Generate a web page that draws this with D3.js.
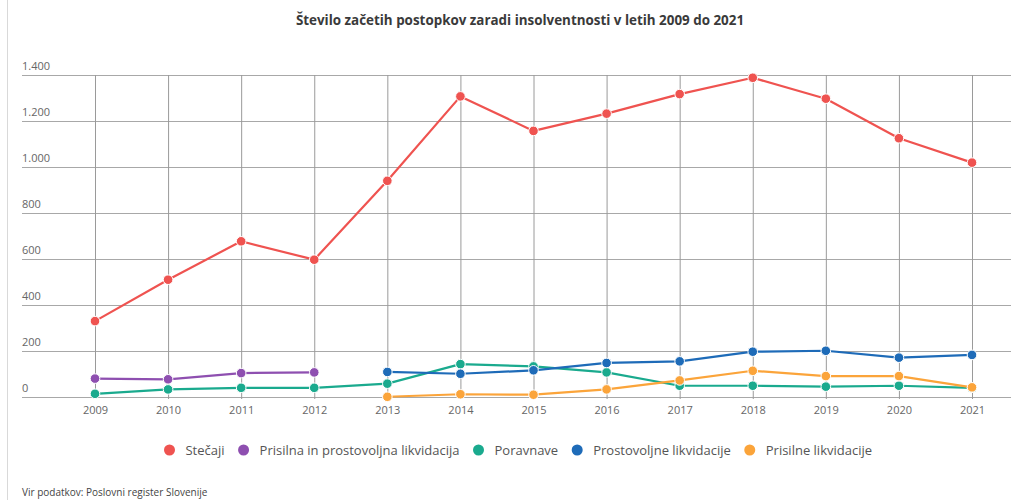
<!DOCTYPE html>
<html>
<head>
<meta charset="utf-8">
<script src="https://cdn.jsdelivr.net/npm/d3@7"></script>
<style>
  html, body { margin: 0; padding: 0; background: #fff; }
  svg { display: block; font-family: "Open Sans", "Noto Sans", sans-serif; }
</style>
</head>
<body>
<svg id="chart" width="1029" height="500"></svg>
<script>
const years = [2009, 2010, 2011, 2012, 2013, 2014, 2015, 2016, 2017, 2018, 2019, 2020, 2021];
const yTicks = [0, 200, 400, 600, 800, 1000, 1200, 1400];
const seriesNames = ["Stečaji", "Prisilna in prostovoljna likvidacija", "Poravnave", "Prostovoljne likvidacije", "Prisilne likvidacije"];
const seriesColors = ["#ef5350", "#8e4fb0", "#1aaa8e", "#1e6bb8", "#fba43a"];
const stecaji = [330, 510, 677, 597, 940, 1307, 1157, 1232, 1317, 1388, 1297, 1125, 1019];
const prisilnaInProstovoljna = [80, 77, 104, 107, null, null, null, null, null, null, null, null, null];
const poravnave = [14, 33, 40, 40, 58, 143, 133, 107, 49, 49, 45, 49, 40];
const prostovoljne = [null, null, null, null, 109, 101, 116, 148, 155, 197, 201, 171, 183];
const prisilne = [null, null, null, null, 1, 12, 10, 33, 72, 114, 91, 91, 42];
const seriesValues = [stecaji, prisilnaInProstovoljna, poravnave, prostovoljne, prisilne];
const titleText = "Število začetih postopkov zaradi insolventnosti v letih 2009 do 2021";
const sourceText = "Vir podatkov: Poslovni register Slovenije";

const svg = d3.select("#chart");
const gridLeft = 22, gridRight = 1011, plotTop = 75, plotBottom = 397;
const x = d3.scaleLinear().domain([2009, 2021]).range([95, 972]);
const y = d3.scaleLinear().domain([0, 1400]).range([plotBottom, plotTop]);
const loc = d3.formatLocale({decimal: ",", thousands: ".", grouping: [3], currency: ["", "€"]});
const fmt = loc.format(",d");

// left border
svg.append("line").attr("x1", 7.5).attr("x2", 7.5).attr("y1", 0).attr("y2", 500)
  .attr("stroke", "#d9d9d9").attr("stroke-width", 1);

// title
svg.append("text").attr("x", 520).attr("y", 25).attr("text-anchor", "middle")
  .attr("font-size", 13.4).attr("font-weight", "bold").attr("fill", "#3a3a3a").text(titleText);

// horizontal grid + y labels
const yAxis = svg.append("g").attr("transform", `translate(${gridLeft},0)`)
  .call(d3.axisRight(y).tickValues(yTicks).tickFormat(fmt).tickSize(gridRight - gridLeft).tickSizeOuter(0));
yAxis.select(".domain").remove();
yAxis.selectAll(".tick line").attr("stroke", "#a8a8a8").attr("stroke-width", 1);
yAxis.selectAll(".tick text").attr("x", 0).attr("dy", 0).attr("y", -6)
  .attr("text-anchor", "start").attr("font-size", 11).attr("fill", "#666")
  .attr("font-family", "'Open Sans', sans-serif");

// vertical grid + x labels
const xAxis = svg.append("g").attr("transform", `translate(0,${plotBottom})`)
  .call(d3.axisBottom(x).tickValues(years).tickFormat(d3.format("d")).tickSize(-(plotBottom - plotTop)).tickSizeOuter(0).tickPadding(9));
xAxis.select(".domain").remove();
xAxis.selectAll(".tick line").attr("stroke", "#9a9a9a").attr("stroke-width", 1).attr("y1", 2);
xAxis.selectAll(".tick text").attr("font-size", 11).attr("fill", "#666")
  .attr("font-family", "'Open Sans', sans-serif");

// lines and markers
const line = d3.line().defined(d => d.v != null).x(d => x(d.year)).y(d => y(d.v));
seriesValues.forEach((vals, i) => {
  const pts = years.map((yr, j) => ({year: yr, v: vals[j]}));
  svg.append("path").datum(pts).attr("d", line).attr("fill", "none")
    .attr("stroke", seriesColors[i]).attr("stroke-width", 2.2).attr("stroke-linejoin", "round");
  svg.append("g").selectAll("circle").data(pts.filter(d => d.v != null)).join("circle")
    .attr("cx", d => x(d.year)).attr("cy", d => y(d.v)).attr("r", 4.8)
    .attr("fill", seriesColors[i]).attr("stroke", "#fff").attr("stroke-width", 1);
});

// legend
const legend = svg.append("g");
let cx = 0;
seriesNames.forEach((name, i) => {
  const g = legend.append("g").attr("transform", `translate(${cx},0)`);
  g.append("circle").attr("cx", 0).attr("cy", 0).attr("r", 5.5).attr("fill", seriesColors[i]);
  const t = g.append("text").attr("x", 16).attr("y", 5).attr("font-size", 13).attr("fill", "#555").text(name);
  const w = t.node().getComputedTextLength();
  cx += 16 + w + 19;
});
const totalW = cx - 19 + 5.5;
legend.attr("transform", `translate(${518 - totalW / 2 + 5.5},450)`);

// source
svg.append("text").attr("x", 22).attr("y", 496).attr("font-size", 10).attr("fill", "#444").text(sourceText);
</script>
</body>
</html>
